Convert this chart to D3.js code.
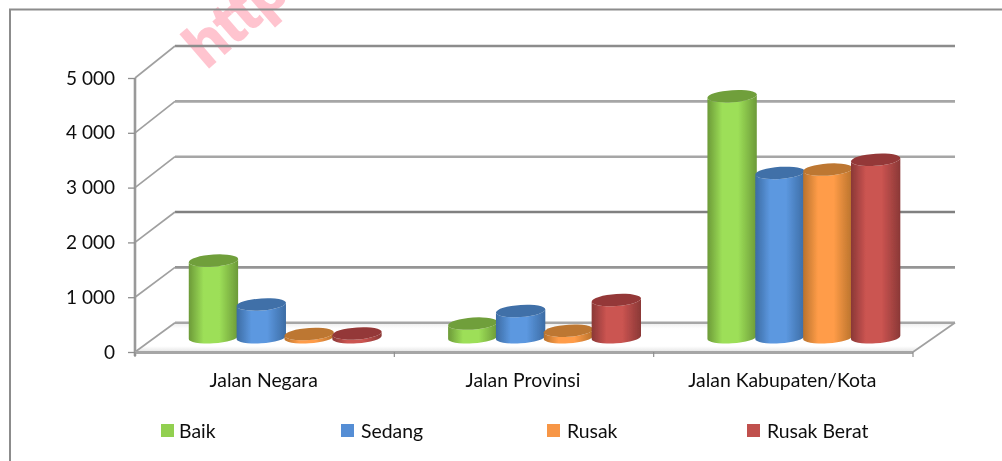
<!DOCTYPE html>
<html><head><meta charset="utf-8">
<script src="https://cdn.jsdelivr.net/npm/d3@7/dist/d3.min.js"></script>
<style>html,body{margin:0;padding:0;background:#fff}svg{display:block}</style>
</head><body><div id="c"></div>
<script>
const categories = ["Jalan Negara", "Jalan Provinsi", "Jalan Kabupaten/Kota"];
const seriesNames = ["Baik", "Sedang", "Rusak", "Rusak Berat"];
const baik = [1400, 250, 4400];
const sedang = [600, 480, 3000];
const rusak = [60, 120, 3060];
const rusakBerat = [70, 680, 3240];
const tickValues = [0, 1000, 2000, 3000, 4000, 5000];
const seriesValues = [baik, sedang, rusak, rusakBerat];
const bodyEdge = ["#6c9a38", "#3c6ca4", "#b8722c", "#8a3836"];
const bodyMid = ["#9ddf58", "#5c98e0", "#ff9c48", "#cb5451"];
const topFill = ["#709f3b", "#3f70a8", "#bd7731", "#943937"];
const swatch = ["#92d050", "#558ed5", "#f79646", "#c0504d"];
const legendX = [161, 341, 547, 747];

const W = 1002, H = 461;
const frontL = 135, frontR = 913, backL = 175, backR = 955;
const y = d3.scaleLinear().domain([0, 5000]).range([352, 78]);
const yBack = d3.scaleLinear().domain([0, 5000]).range([322.7, 46]);
const yMid = d3.scaleLinear().domain([0, 5000]).range([337.3, 63.3]);
const xCat = d3.scaleBand().domain(categories).range([frontL, frontR]);
const xBar = d3.scaleBand().domain(categories).range([frontL + 20, frontR + 20]).paddingInner(0.262).paddingOuter(0.131);
const xSer = d3.scaleBand().domain(seriesNames).range([0, xBar.bandwidth()]);

const svg = d3.select("#c").append("svg").attr("width", W).attr("height", H);
const font = "Lato, Carlito, sans-serif";
const defs = svg.append("defs");

seriesNames.forEach((s, i) => {
  const g = defs.append("linearGradient").attr("id", "g" + i);
  [[0, bodyEdge[i]], [0.3, bodyMid[i]], [0.62, bodyMid[i]], [1, bodyEdge[i]]].forEach(([o, c]) =>
    g.append("stop").attr("offset", o).attr("stop-color", c));
});
const fl = defs.append("linearGradient").attr("id", "floor").attr("x1", 0).attr("x2", 0).attr("y1", 0).attr("y2", 1);
[[0, "#ececec"], [0.2, "#ffffff"], [0.8, "#ffffff"], [1, "#e4e4e4"]].forEach(([o, c]) =>
  fl.append("stop").attr("offset", o).attr("stop-color", c));
const sf = defs.append("filter").attr("id", "soft");
sf.append("feGaussianBlur").attr("stdDeviation", 0.55);
const tf = defs.append("filter").attr("id", "softText");
tf.append("feGaussianBlur").attr("stdDeviation", 0.3);

// watermark
svg.append("text").attr("transform", "translate(206,70) rotate(-41)")
  .attr("font-family", "'Liberation Sans', Arial, sans-serif").attr("font-weight", 700).attr("font-size", 60)
  .attr("fill", "#ffc4cf").attr("stroke", "#ffc4cf").attr("stroke-width", 1.6).text("http://");

// frame
svg.append("path").attr("d", `M10,${H}V9.5H${W}`).attr("fill", "none").attr("stroke", "#8c8c8c").attr("stroke-width", 2);

// floor
svg.append("path").attr("d", `M${frontL},${y(0)}L${backL},${yBack(0)}H${backR}L${frontR},${y(0)}Z`).attr("fill", "url(#floor)");

const soft = svg.append("g").attr("filter", "url(#soft)");
const gridColor = d => d === 2000 ? "#808080" : d === 5000 ? "#8c8c8c" : d === 1000 ? "#959595" : "#a6a6a6";
soft.selectAll(".gb").data(tickValues).join("line")
  .attr("x1", backL).attr("x2", backR)
  .attr("y1", d => yBack(d)).attr("y2", d => yBack(d))
  .attr("stroke", gridColor).attr("stroke-width", 2.6);
soft.selectAll(".gs").data(tickValues).join("line")
  .attr("x1", frontL).attr("x2", backL)
  .attr("y1", d => y(d)).attr("y2", d => yBack(d))
  .attr("stroke", "#a0a0a0").attr("stroke-width", 1.7);
soft.append("line").attr("x1", frontR).attr("x2", backR).attr("y1", y(0)).attr("y2", yBack(0))
  .attr("stroke", "#a0a0a0").attr("stroke-width", 1.7);

// axes
soft.append("line").attr("x1", frontL).attr("x2", frontL).attr("y1", y(5000)).attr("y2", y(0) + 4)
  .attr("stroke", "#999").attr("stroke-width", 2.6);
soft.append("line").attr("x1", frontL).attr("x2", frontR).attr("y1", y(0) + 0.5).attr("y2", y(0) + 0.5)
  .attr("stroke", "#a6a6a6").attr("stroke-width", 3);

const yAxis = d3.axisLeft(y).tickValues(tickValues).tickSize(7).tickPadding(13)
  .tickFormat(d => d3.format(",")(d).replace(",", " "));
const ya = svg.append("g").attr("transform", `translate(${frontL},0)`).call(yAxis);
ya.select(".domain").remove();
ya.selectAll("line").attr("stroke", "#8f8f8f").attr("stroke-width", 1.3);
ya.selectAll("text").attr("font-family", font).attr("font-size", 19).attr("fill", "#111").attr("filter", "url(#softText)");

const xTicks = categories.map(c => xCat(c)).concat(frontR);
svg.selectAll(".xt").data(xTicks).join("line")
  .attr("x1", d => d).attr("x2", d => d).attr("y1", y(0)).attr("y2", y(0) + 5)
  .attr("stroke", "#8f8f8f").attr("stroke-width", 1.2);

svg.selectAll(".xl").data(categories).join("text")
  .attr("x", c => xCat(c) + xCat.bandwidth() / 2 - 1).attr("y", 387).attr("text-anchor", "middle")
  .attr("font-family", font).attr("font-size", 19.4).attr("fill", "#111").attr("filter", "url(#softText)").text(c => c);

// cylinders
const ry = 6, tilt = 1.6;
const bars = svg.append("g").attr("filter", "url(#soft)");
seriesNames.forEach((s, i) => {
  categories.forEach((c, k) => {
    const w = xSer.bandwidth() + 1.5, xL = xBar(c) + xSer(s) - 0.2, xR = xL + w, rx = w / 2;
    const top = yMid(seriesValues[i][k]), base = yMid(0);
    const rot = -4;
    const body = `M${xL},${top + tilt}V${base + tilt}A${rx},${ry} ${rot} 0 0 ${xR},${base - tilt}V${top - tilt}A${rx},${ry} ${rot} 0 1 ${xL},${top + tilt}Z`;
    const cap = `M${xL},${top + tilt}A${rx},${ry} ${rot} 0 1 ${xR},${top - tilt}A${rx},${ry} ${rot} 0 1 ${xL},${top + tilt}Z`;
    bars.append("path").attr("d", body).attr("fill", `url(#g${i})`);
    bars.append("path").attr("d", cap).attr("fill", topFill[i]);
  });
});

// legend
svg.selectAll(".ls").data(seriesNames).join("rect")
  .attr("x", (d, i) => legendX[i]).attr("y", 424).attr("width", 13).attr("height", 13)
  .attr("fill", (d, i) => swatch[i]);
svg.selectAll(".lt").data(seriesNames).join("text")
  .attr("x", (d, i) => legendX[i] + (i === 0 ? 18 : 20)).attr("y", 438)
  .attr("font-family", font).attr("font-size", 19.4).attr("fill", "#111").attr("filter", "url(#softText)").text(d => d);
</script></body></html>
